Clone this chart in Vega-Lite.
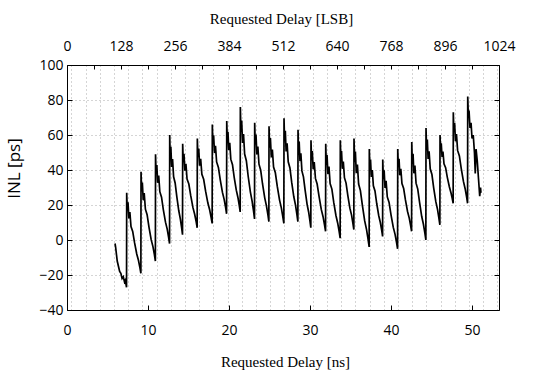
{
  "$schema": "https://vega.github.io/schema/vega-lite/v6.json",
  "autosize": "none",
  "width": 432,
  "height": 245,
  "padding": {"left": 67, "top": 65, "right": 51, "bottom": 64},
  "background": "white",
  "config": {"view": {"stroke": null}, "axis": {"labelFont": "Open Sans", "labelFontSize": 14, "labelColor": "#000", "domainColor": "#000", "tickColor": "#000", "titleColor": "#000", "titleFontWeight": "normal", "gridColor": "#aaa", "gridDash": [1, 3], "gridWidth": 1}},
  "datasets": {
    "inl": [
      {"t": 5.93, "v": -2}, {"t": 6.0, "v": -4}, {"t": 6.1, "v": -8}, {"t": 6.2, "v": -12}, {"t": 6.35, "v": -15}, {"t": 6.5, "v": -18}, {"t": 6.65, "v": -19}, {"t": 6.8, "v": -22}, {"t": 6.95, "v": -21}, {"t": 7.1, "v": -24}, {"t": 7.2, "v": -23}, {"t": 7.35, "v": -27},
      {"t": 7.37, "v": 27}, {"t": 7.44, "v": 16.9}, {"t": 7.53, "v": 21.5}, {"t": 7.64, "v": 12.3}, {"t": 7.76, "v": 16}, {"t": 7.9, "v": 7.7}, {"t": 8.11, "v": 4.9}, {"t": 8.34, "v": -1.5}, {"t": 8.61, "v": -8}, {"t": 8.82, "v": -11.6}, {"t": 9.0, "v": -15.8}, {"t": 9.12, "v": -19},
      {"t": 9.14, "v": 39}, {"t": 9.21, "v": 27.8}, {"t": 9.3, "v": 32.9}, {"t": 9.41, "v": 22.7}, {"t": 9.53, "v": 26.8}, {"t": 9.68, "v": 17.6}, {"t": 9.89, "v": 14.5}, {"t": 10.12, "v": 7.4}, {"t": 10.39, "v": 0.2}, {"t": 10.61, "v": -3.8}, {"t": 10.79, "v": -8.4}, {"t": 10.91, "v": -12},
      {"t": 10.93, "v": 49}, {"t": 11.0, "v": 37.8}, {"t": 11.09, "v": 42.9}, {"t": 11.19, "v": 32.7}, {"t": 11.32, "v": 36.8}, {"t": 11.46, "v": 27.6}, {"t": 11.67, "v": 24.5}, {"t": 11.89, "v": 17.4}, {"t": 12.16, "v": 10.2}, {"t": 12.37, "v": 6.2}, {"t": 12.54, "v": 1.6}, {"t": 12.66, "v": -2},
      {"t": 12.68, "v": 60}, {"t": 12.74, "v": 47.5}, {"t": 12.82, "v": 53.2}, {"t": 12.92, "v": 41.8}, {"t": 13.03, "v": 46.3}, {"t": 13.16, "v": 36.1}, {"t": 13.35, "v": 32.6}, {"t": 13.56, "v": 24.7}, {"t": 13.8, "v": 16.7}, {"t": 13.99, "v": 12.1}, {"t": 14.15, "v": 7}, {"t": 14.26, "v": 3},
      {"t": 14.28, "v": 55}, {"t": 14.35, "v": 44.4}, {"t": 14.44, "v": 49.2}, {"t": 14.55, "v": 39.6}, {"t": 14.68, "v": 43.5}, {"t": 14.82, "v": 34.8}, {"t": 15.04, "v": 32}, {"t": 15.28, "v": 25.2}, {"t": 15.55, "v": 18.5}, {"t": 15.76, "v": 14.7}, {"t": 15.95, "v": 10.4}, {"t": 16.07, "v": 7},
      {"t": 16.09, "v": 58}, {"t": 16.16, "v": 47.3}, {"t": 16.26, "v": 52.2}, {"t": 16.37, "v": 42.5}, {"t": 16.5, "v": 46.4}, {"t": 16.65, "v": 37.6}, {"t": 16.87, "v": 34.7}, {"t": 17.11, "v": 27.9}, {"t": 17.39, "v": 21.1}, {"t": 17.61, "v": 17.3}, {"t": 17.79, "v": 12.9}, {"t": 17.92, "v": 9.5},
      {"t": 17.94, "v": 66}, {"t": 18.01, "v": 54.8}, {"t": 18.1, "v": 59.9}, {"t": 18.21, "v": 49.7}, {"t": 18.33, "v": 53.8}, {"t": 18.47, "v": 44.6}, {"t": 18.69, "v": 41.5}, {"t": 18.92, "v": 34.4}, {"t": 19.19, "v": 27.2}, {"t": 19.4, "v": 23.2}, {"t": 19.58, "v": 18.6}, {"t": 19.7, "v": 15},
      {"t": 19.72, "v": 68}, {"t": 19.79, "v": 56.6}, {"t": 19.87, "v": 61.8}, {"t": 19.97, "v": 51.4}, {"t": 20.09, "v": 55.5}, {"t": 20.22, "v": 46.2}, {"t": 20.43, "v": 43}, {"t": 20.64, "v": 35.8}, {"t": 20.9, "v": 28.5}, {"t": 21.1, "v": 24.3}, {"t": 21.27, "v": 19.6}, {"t": 21.38, "v": 16},
      {"t": 21.4, "v": 76}, {"t": 21.47, "v": 61.9}, {"t": 21.56, "v": 68.3}, {"t": 21.67, "v": 55.5}, {"t": 21.79, "v": 60.6}, {"t": 21.93, "v": 49.1}, {"t": 22.14, "v": 45.3}, {"t": 22.37, "v": 36.3}, {"t": 22.64, "v": 27.4}, {"t": 22.85, "v": 22.2}, {"t": 23.03, "v": 16.5}, {"t": 23.15, "v": 12},
      {"t": 23.17, "v": 67}, {"t": 23.24, "v": 54.6}, {"t": 23.33, "v": 60.2}, {"t": 23.44, "v": 48.9}, {"t": 23.56, "v": 53.4}, {"t": 23.7, "v": 43.3}, {"t": 23.91, "v": 39.9}, {"t": 24.14, "v": 32}, {"t": 24.41, "v": 24.1}, {"t": 24.62, "v": 19.5}, {"t": 24.8, "v": 14.5}, {"t": 24.92, "v": 10.5},
      {"t": 24.94, "v": 65}, {"t": 25.01, "v": 52.8}, {"t": 25.11, "v": 58.3}, {"t": 25.22, "v": 47.2}, {"t": 25.35, "v": 51.7}, {"t": 25.5, "v": 41.7}, {"t": 25.72, "v": 38.4}, {"t": 25.96, "v": 30.6}, {"t": 26.24, "v": 22.8}, {"t": 26.46, "v": 18.4}, {"t": 26.64, "v": 13.4}, {"t": 26.77, "v": 9.5},
      {"t": 26.79, "v": 69.5}, {"t": 26.86, "v": 56.5}, {"t": 26.95, "v": 62.4}, {"t": 27.05, "v": 50.6}, {"t": 27.17, "v": 55.3}, {"t": 27.31, "v": 44.7}, {"t": 27.52, "v": 41.2}, {"t": 27.74, "v": 32.9}, {"t": 28.0, "v": 24.7}, {"t": 28.21, "v": 19.9}, {"t": 28.38, "v": 14.6}, {"t": 28.5, "v": 10.5},
      {"t": 28.52, "v": 63}, {"t": 28.58, "v": 50.7}, {"t": 28.66, "v": 56.3}, {"t": 28.76, "v": 45.1}, {"t": 28.87, "v": 49.6}, {"t": 29.0, "v": 39.5}, {"t": 29.19, "v": 36.1}, {"t": 29.4, "v": 28.3}, {"t": 29.64, "v": 20.4}, {"t": 29.83, "v": 16}, {"t": 29.99, "v": 10.9}, {"t": 30.1, "v": 7},
      {"t": 30.12, "v": 57}, {"t": 30.19, "v": 45.6}, {"t": 30.28, "v": 50.8}, {"t": 30.39, "v": 40.4}, {"t": 30.52, "v": 44.5}, {"t": 30.67, "v": 35.2}, {"t": 30.88, "v": 32}, {"t": 31.12, "v": 24.8}, {"t": 31.39, "v": 17.5}, {"t": 31.61, "v": 13.3}, {"t": 31.79, "v": 8.6}, {"t": 31.92, "v": 5},
      {"t": 31.94, "v": 55}, {"t": 32.01, "v": 43.1}, {"t": 32.1, "v": 48.5}, {"t": 32.21, "v": 37.7}, {"t": 32.34, "v": 42}, {"t": 32.48, "v": 32.3}, {"t": 32.7, "v": 29.1}, {"t": 32.93, "v": 21.5}, {"t": 33.2, "v": 14}, {"t": 33.42, "v": 9.6}, {"t": 33.6, "v": 4.8}, {"t": 33.72, "v": 1},
      {"t": 33.74, "v": 57}, {"t": 33.81, "v": 45.8}, {"t": 33.89, "v": 50.9}, {"t": 33.99, "v": 40.7}, {"t": 34.11, "v": 44.8}, {"t": 34.25, "v": 35.6}, {"t": 34.45, "v": 32.5}, {"t": 34.67, "v": 25.4}, {"t": 34.92, "v": 18.2}, {"t": 35.13, "v": 14.2}, {"t": 35.29, "v": 9.6}, {"t": 35.41, "v": 6},
      {"t": 35.43, "v": 58}, {"t": 35.51, "v": 44.4}, {"t": 35.6, "v": 50.6}, {"t": 35.71, "v": 38.2}, {"t": 35.85, "v": 43.1}, {"t": 36.0, "v": 32}, {"t": 36.22, "v": 28.2}, {"t": 36.47, "v": 19.6}, {"t": 36.75, "v": 10.9}, {"t": 36.98, "v": 5.9}, {"t": 37.17, "v": 0.3}, {"t": 37.3, "v": -4},
      {"t": 37.32, "v": 52}, {"t": 37.39, "v": 41}, {"t": 37.47, "v": 46}, {"t": 37.57, "v": 36}, {"t": 37.69, "v": 40}, {"t": 37.82, "v": 31}, {"t": 38.02, "v": 28}, {"t": 38.23, "v": 21}, {"t": 38.48, "v": 14}, {"t": 38.68, "v": 10}, {"t": 38.85, "v": 5.5}, {"t": 38.96, "v": 2},
      {"t": 38.98, "v": 46}, {"t": 39.05, "v": 34.8}, {"t": 39.15, "v": 39.9}, {"t": 39.26, "v": 29.7}, {"t": 39.39, "v": 33.8}, {"t": 39.54, "v": 24.6}, {"t": 39.76, "v": 21.5}, {"t": 40.0, "v": 14.4}, {"t": 40.28, "v": 7.2}, {"t": 40.5, "v": 3.2}, {"t": 40.68, "v": -1.4}, {"t": 40.81, "v": -5},
      {"t": 40.83, "v": 52}, {"t": 40.9, "v": 41.7}, {"t": 40.99, "v": 46.4}, {"t": 41.09, "v": 37}, {"t": 41.21, "v": 40.7}, {"t": 41.35, "v": 32.3}, {"t": 41.56, "v": 29.4}, {"t": 41.78, "v": 22.9}, {"t": 42.04, "v": 16.3}, {"t": 42.25, "v": 12.5}, {"t": 42.42, "v": 8.3}, {"t": 42.54, "v": 5},
      {"t": 42.56, "v": 56}, {"t": 42.63, "v": 43.7}, {"t": 42.72, "v": 49.3}, {"t": 42.82, "v": 38.1}, {"t": 42.95, "v": 42.6}, {"t": 43.09, "v": 32.5}, {"t": 43.3, "v": 29.1}, {"t": 43.53, "v": 21.3}, {"t": 43.79, "v": 13.4}, {"t": 44.0, "v": 9}, {"t": 44.18, "v": 3.9}, {"t": 44.3, "v": 0},
      {"t": 44.32, "v": 64}, {"t": 44.39, "v": 51.8}, {"t": 44.48, "v": 57.4}, {"t": 44.58, "v": 46.3}, {"t": 44.7, "v": 50.7}, {"t": 44.84, "v": 40.7}, {"t": 45.05, "v": 37.4}, {"t": 45.27, "v": 29.7}, {"t": 45.53, "v": 21.9}, {"t": 45.74, "v": 17.5}, {"t": 45.91, "v": 12.5}, {"t": 46.03, "v": 8.6},
      {"t": 46.05, "v": 60}, {"t": 46.12, "v": 51.4}, {"t": 46.2, "v": 55.3}, {"t": 46.3, "v": 47.5}, {"t": 46.41, "v": 50.6}, {"t": 46.54, "v": 43.6}, {"t": 46.74, "v": 41.3}, {"t": 46.95, "v": 35.8}, {"t": 47.2, "v": 30.4}, {"t": 47.39, "v": 27.2}, {"t": 47.56, "v": 23.7}, {"t": 47.67, "v": 21},
      {"t": 47.69, "v": 73}, {"t": 47.76, "v": 61.6}, {"t": 47.85, "v": 66.8}, {"t": 47.96, "v": 56.4}, {"t": 48.08, "v": 60.5}, {"t": 48.22, "v": 51.2}, {"t": 48.44, "v": 48}, {"t": 48.67, "v": 40.8}, {"t": 48.94, "v": 33.5}, {"t": 49.15, "v": 29.3}, {"t": 49.33, "v": 24.6}, {"t": 49.45, "v": 21},
      {"t": 49.47, "v": 82}, {"t": 49.55, "v": 70}, {"t": 49.63, "v": 74}, {"t": 49.75, "v": 64}, {"t": 49.88, "v": 67}, {"t": 50.0, "v": 58}, {"t": 50.15, "v": 60}, {"t": 50.3, "v": 50}, {"t": 50.4, "v": 38}, {"t": 50.5, "v": 52}, {"t": 50.65, "v": 45}, {"t": 50.8, "v": 35}, {"t": 50.95, "v": 25}, {"t": 51.05, "v": 30}, {"t": 51.1, "v": 27}
    ],
    "frame": [{"lsb": 0, "inl": -40}, {"lsb": 1024, "inl": 100}]
  },
  "layer": [
    {
      "data": {"name": "inl"},
      "mark": {"type": "line", "color": "#000", "strokeWidth": 1.7, "clip": true},
      "encoding": {
        "x": {"field": "t", "type": "quantitative", "scale": {"domain": [0, 53.33], "nice": false, "zero": false},
          "axis": {"orient": "bottom", "values": [0.54, 2.29, 4.05, 5.8, 7.55, 9.31, 11.06, 12.81, 14.57, 16.32, 18.07, 19.82, 21.58, 23.33, 25.08, 26.84, 28.59, 30.34, 32.1, 33.85, 35.6, 37.35, 39.11, 40.86, 42.61, 44.37, 46.12, 47.87, 49.63, 51.38, 53.13, 0, 10, 20, 30, 40, 50],
            "labelExpr": "datum.value % 10 === 0 ? datum.label : ''", "labelFlush": false, "labelOverlap": false,
            "tickSize": -5, "tickOpacity": {"condition": {"test": "datum.value % 10 === 0", "value": 1}, "value": 0},
            "grid": true, "gridOpacity": {"condition": {"test": "datum.value % 10 === 0", "value": 0}, "value": 1},
            "labelPadding": 18,
            "title": "Requested  Delay [ns]", "titleFont": "Liberation Serif", "titleFontSize": 15, "titleX": 218, "titleY": 56, "titleBaseline": "alphabetic", "titleAnchor": null}},
        "y": {"field": "v", "type": "quantitative", "scale": {"domain": [-40, 100], "nice": false},
          "axis": {"orient": "left", "values": [-40, -20, 0, 20, 40, 60, 80, 100], "tickSize": -5, "labelPadding": 9, "grid": true,
            "title": "INL [ps]", "titleFont": "Open Sans", "titleFontSize": 17, "titleX": -48, "titleY": 103, "titleAngle": -90, "titleBaseline": "alphabetic", "titleAlign": "center"}}
      }
    },
    {
      "data": {"name": "frame"},
      "mark": {"type": "point", "opacity": 0},
      "encoding": {
        "x": {"field": "lsb", "type": "quantitative", "scale": {"domain": [0, 1024], "nice": false},
          "axis": {"orient": "top", "values": [0, 64, 128, 192, 256, 320, 384, 448, 512, 576, 640, 704, 768, 832, 896, 960, 1024],
            "labelExpr": "datum.value % 128 === 0 ? format(datum.value, 'd') : ''", "labelFlush": false, "labelOverlap": false,
            "tickSize": -4, "grid": false, "labelPadding": 16,
            "title": "Requested  Delay [LSB]", "titleFont": "Liberation Serif", "titleFontSize": 15, "titleX": 214, "titleY": -42, "titleBaseline": "alphabetic", "titleAnchor": null}},
        "y": {"field": "inl", "type": "quantitative", "scale": {"domain": [-40, 100], "nice": false},
          "axis": {"orient": "right", "values": [-40, -20, 0, 20, 40, 60, 80, 100], "tickSize": -5, "labels": false, "grid": false, "title": null}}
      }
    }
  ],
  "resolve": {"scale": {"x": "independent", "y": "independent"}}
}
